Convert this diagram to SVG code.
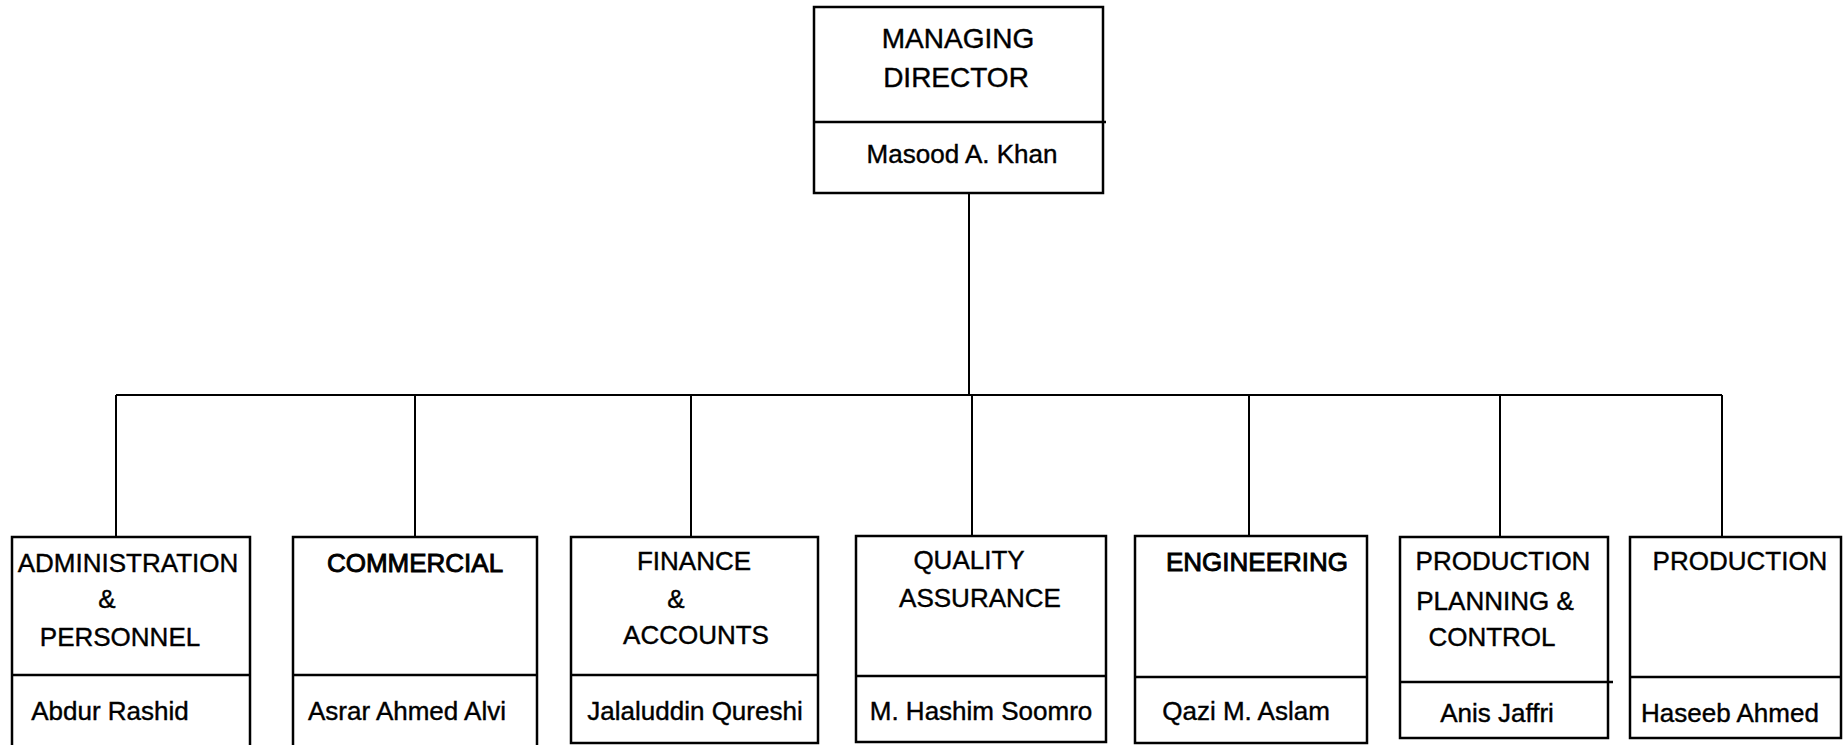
<svg xmlns="http://www.w3.org/2000/svg" width="1843" height="745" viewBox="0 0 1843 745">
<style>
.box{fill:#fff;stroke:#000;stroke-width:2.5}
.div{stroke:#000;stroke-width:2.5;fill:none}
.con{stroke:#000;stroke-width:2;fill:none}
text{font-family:"Liberation Sans",Arial,sans-serif;font-size:26px;fill:#000;stroke:#000;stroke-width:0.4;text-anchor:middle}
.big{font-size:28px}
.b{stroke-width:0.9}
</style>
<rect width="1843" height="745" fill="#fff"/>
<g id="connectors">
<line class="con" x1="969" y1="193" x2="969" y2="395"/>
<line class="con" x1="116" y1="395" x2="1722" y2="395"/>
<line class="con" x1="116" y1="395" x2="116" y2="537"/>
<line class="con" x1="415" y1="395" x2="415" y2="537"/>
<line class="con" x1="691" y1="395" x2="691" y2="537"/>
<line class="con" x1="972" y1="395" x2="972" y2="536"/>
<line class="con" x1="1249" y1="395" x2="1249" y2="536"/>
<line class="con" x1="1500" y1="395" x2="1500" y2="537"/>
<line class="con" x1="1722" y1="395" x2="1722" y2="537"/>
</g>
<g id="managing-director">
<rect class="box" x="814" y="7" width="289" height="186"/>
<line class="div" x1="814" y1="122" x2="1106" y2="122"/>
<text class="big" x="958" y="48">MANAGING</text>
<text class="big" x="956" y="87">DIRECTOR</text>
<text x="962" y="163">Masood A. Khan</text>
</g>
<g id="administration">
<rect class="box" x="12" y="537" width="238" height="215"/>
<line class="div" x1="12" y1="675" x2="250" y2="675"/>
<text x="128" y="572">ADMINISTRATION</text>
<text x="107" y="608">&amp;</text>
<text x="120" y="646">PERSONNEL</text>
<text x="110" y="720">Abdur Rashid</text>
</g>
<g id="commercial">
<rect class="box" x="293" y="537" width="244" height="215"/>
<line class="div" x1="293" y1="675" x2="537" y2="675"/>
<text class="b" x="415" y="572">COMMERCIAL</text>
<text x="407" y="720">Asrar Ahmed Alvi</text>
</g>
<g id="finance">
<rect class="box" x="571" y="537" width="247" height="206"/>
<line class="div" x1="571" y1="675" x2="818" y2="675"/>
<text x="694" y="570">FINANCE</text>
<text x="676" y="608">&amp;</text>
<text x="696" y="644">ACCOUNTS</text>
<text x="695" y="720">Jalaluddin Qureshi</text>
</g>
<g id="quality">
<rect class="box" x="856" y="536" width="250" height="206"/>
<line class="div" x1="856" y1="676" x2="1106" y2="676"/>
<text x="969" y="569">QUALITY</text>
<text x="980" y="607">ASSURANCE</text>
<text x="981" y="720">M. Hashim Soomro</text>
</g>
<g id="engineering">
<rect class="box" x="1135" y="536" width="232" height="207"/>
<line class="div" x1="1135" y1="677" x2="1367" y2="677"/>
<text class="b" x="1257" y="571">ENGINEERING</text>
<text x="1246" y="720">Qazi M. Aslam</text>
</g>
<g id="ppc">
<rect class="box" x="1400" y="537" width="208" height="201"/>
<line class="div" x1="1400" y1="682" x2="1613" y2="682"/>
<text x="1503" y="570">PRODUCTION</text>
<text x="1495" y="610">PLANNING &amp;</text>
<text x="1492" y="646">CONTROL</text>
<text x="1497" y="722">Anis Jaffri</text>
</g>
<g id="production">
<rect class="box" x="1630" y="537" width="211" height="201"/>
<line class="div" x1="1630" y1="677" x2="1841" y2="677"/>
<text x="1740" y="570">PRODUCTION</text>
<text x="1730" y="722">Haseeb Ahmed</text>
</g>
</svg>
